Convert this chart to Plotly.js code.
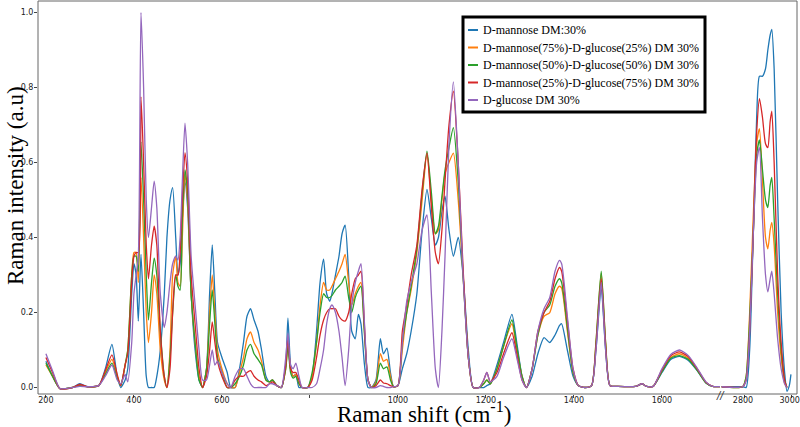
<!DOCTYPE html>
<html>
<head>
<meta charset="utf-8">
<script src="https://cdn.plot.ly/plotly-3.0.1.min.js"></script>
<style>html,body{margin:0;padding:0;background:#fff;}#chart{width:800px;height:427px;}</style>
</head>
<body>
<div id="chart"></div>
<script>
// Raman shift grid, low-wavenumber segment (cm-1)
const shiftLow = [200,215,232,260,277,295,320,335,350,362,370,380,386,395,400,405,410,416,422,428,433,440,446,452,460,469,475,482,488,495,500,505,510,516,522,530,539,548,556,565,572,578,584,590,600,612,620,630,640,649,657,665,673,682,690,700,708,715,725,735,745,750,756,762,768,775,782,795,805,815,823,831,838,845,850,858,866,873,880,888,895,903,910,916,924,932,940,950,960,967,975,983,990,1000,1010,1020,1030,1043,1055,1066,1076,1085,1092,1100,1107,1116,1126,1137,1148,1160,1171,1185,1195,1202,1210,1225,1240,1259,1270,1282,1292,1305,1318,1332,1345,1357,1367,1372,1385,1398,1410,1425,1440,1450,1462,1472,1482,1500,1540,1555,1565,1580,1600,1620,1640,1660,1680,1700,1715,1740];

const mannoseLow = [.07,.03,-.003,0,.01,.002,.005,.05,.115,.03,0,.02,.05,.25,.33,.3,.177,.355,.2,.03,0,0,0,.03,.1,.25,.4,.5,.533,.4,.3,.33,.45,.55,.48,.25,.1,.02,0,.05,.25,.38,.25,.12,.08,.04,0,0,.05,.12,.19,.21,.18,.15,.1,.03,.015,.02,.005,0,.06,.185,.06,.03,.035,0,0,0,.03,.15,.28,.342,.25,.23,.25,.3,.35,.41,.433,.3,.15,.13,.195,.17,.06,0,0,.02,.13,.09,.105,.04,.002,.005,.05,.09,.15,.25,.42,.528,.45,.38,.4,.47,.51,.42,.35,.4,.3,.1,0,0,0,.005,.01,.06,.12,.195,.12,.03,0,.03,.09,.133,.12,.14,.165,.17,.1,.03,.005,0,.005,.1,.265,.1,.005,.003,.003,.01,.003,.003,.04,.075,.083,.072,.045,.012,.003,.003];
const m75Low = [.06,.03,-.003,0,.005,.002,.005,.04,.075,.03,.005,.06,.1,.3,.36,.36,.28,.56,.4,.2,.12,.2,.3,.25,.1,.02,0,.1,.3,.35,.28,.27,.4,.57,.5,.25,.12,.03,0,.05,.2,.3,.2,.1,.05,.01,0,0,.04,.08,.13,.148,.12,.1,.07,.02,.015,.02,.005,0,.05,.12,.05,.03,.035,.01,0,0,.03,.12,.22,.28,.26,.26,.27,.29,.31,.33,.355,.28,.22,.25,.27,.28,.15,.02,0,.015,.09,.07,.075,.03,.002,.005,.1,.2,.26,.36,.5,.625,.5,.41,.42,.5,.57,.6,.625,.5,.3,.08,0,0,.01,.02,.01,.05,.11,.17,.1,.03,0,.05,.14,.19,.2,.25,.27,.265,.15,.04,.005,0,.005,.12,.305,.12,.005,.003,.003,.01,.003,.003,.045,.08,.09,.078,.048,.013,.003,.003];
const m50Low = [.065,.03,-.003,0,.005,.002,.005,.035,.065,.025,.005,.06,.1,.3,.35,.35,.31,.655,.5,.3,.18,.28,.345,.3,.15,.03,0,.08,.2,.3,.27,.26,.45,.58,.52,.25,.12,.02,0,.05,.17,.26,.17,.08,.04,0,0,.01,.03,.06,.1,.115,.09,.075,.06,.02,.015,.02,.005,0,.05,.11,.04,.025,.03,.01,0,0,.04,.12,.2,.25,.24,.24,.245,.26,.27,.28,.297,.24,.2,.24,.26,.27,.14,.02,0,.01,.065,.05,.055,.02,.002,.005,.12,.2,.27,.37,.52,.63,.52,.41,.43,.51,.58,.64,.693,.55,.3,.08,0,0,.01,.02,.01,.05,.11,.18,.11,.03,0,.05,.14,.2,.22,.27,.29,.28,.16,.04,.005,0,.005,.12,.31,.12,.005,.003,.003,.01,.003,.003,.042,.078,.085,.075,.046,.012,.003,.003];
const m25Low = [.08,.04,-.003,0,.008,.002,.005,.045,.087,.035,.005,.06,.09,.28,.35,.36,.36,.775,.6,.38,.29,.38,.43,.38,.15,.03,0,.05,.2,.3,.3,.36,.5,.626,.55,.3,.17,.05,0,.03,.1,.175,.12,.07,.03,0,0,.02,.03,.03,.04,.045,.03,.02,.015,.005,.01,.015,.005,0,.06,.135,.05,.04,.04,.02,0,0,.02,.08,.14,.18,.2,.21,.21,.21,.19,.18,.177,.2,.25,.29,.3,.31,.16,.02,0,.005,.02,.012,.01,.005,.002,.005,.15,.22,.3,.38,.53,.625,.48,.36,.33,.42,.55,.7,.79,.6,.32,.08,0,0,.02,.04,.015,.04,.09,.146,.09,.02,0,.05,.15,.2,.23,.29,.32,.31,.18,.05,.005,0,.005,.11,.29,.11,.005,.003,.003,.01,.003,.003,.047,.085,.095,.082,.05,.014,.003,.003];
const glucoseLow = [.09,.045,-.003,0,.003,.002,.005,.03,.06,.02,.01,.035,.015,.12,.25,.3,.35,1.0,.8,.5,.4,.48,.55,.48,.25,.16,.2,.28,.33,.35,.34,.4,.55,.705,.6,.35,.22,.1,.02,.02,.06,.1,.06,.07,.04,.01,0,.03,.05,.05,.03,.01,0,0,0,0,.01,.01,.005,0,.08,.145,.06,.05,.065,.03,0,0,0,.01,.05,.1,.17,.21,.22,.2,.15,.08,.005,.1,.22,.28,.31,.33,.17,.02,0,0,.005,.003,0,0,.002,.005,.12,.23,.28,.33,.42,.46,.25,.05,0,.15,.35,.65,.815,.6,.3,.08,0,0,.02,.04,.015,.03,.08,.13,.08,.02,0,.05,.15,.21,.24,.31,.339,.33,.19,.05,.005,0,.005,.1,.28,.1,.005,.003,.003,.01,.003,.003,.05,.088,.1,.085,.052,.015,.003,.003];

// Raman shift grid, C-H stretching segment (cm-1)
const shiftHigh = [2700,2790,2805,2820,2835,2850,2862,2875,2888,2898,2908,2915,2925,2940,2955,2970,2980,2990,2997];
const mannoseHigh = [.002,.002,0,.1,.4,.72,.83,.83,.85,.9,.94,.955,.85,.5,.2,.04,-.01,.005,.035];
const m75High = [.002,.002,.03,.2,.45,.65,.69,.55,.4,.37,.42,.44,.38,.2,.08,.01,0,null,null];
const m50High = [.002,.002,.03,.18,.4,.62,.66,.58,.5,.48,.54,.56,.45,.25,.1,.02,0,null,null];
const m25High = [.002,.002,.02,.15,.4,.68,.77,.72,.65,.64,.71,.737,.6,.3,.12,.02,0,null,null];
const glucoseHigh = [.002,.002,.02,.15,.4,.6,.64,.45,.3,.255,.29,.31,.25,.13,.05,.01,0,null,null];

const seriesNames = ["D-mannose DM:30%","D-mannose(75%)-D-glucose(25%) DM 30%","D-mannose(50%)-D-glucose(50%) DM 30%","D-mannose(25%)-D-glucose(75%) DM 30%","D-glucose DM 30%"];
const seriesColors = ["#1f77b4","#ff7f0e","#2ca02c","#d62728","#9467bd"];
const lowVals = [mannoseLow,m75Low,m50Low,m25Low,glucoseLow];
const highVals = [mannoseHigh,m75High,m50High,m25High,glucoseHigh];

const xTickVals = [200,400,600,800,1000,1200,1400,1600];
const xTickText = ["200","400","600"," ","1000","1200","1400","1600"];
const x2TickVals = [2800,3000];
const x2TickText = ["2800","3000"];
const yTickVals = [0,0.2,0.4,0.6,0.8,1.0];
const yTickText = ["0.0","0.2","0.4","0.6","0.8","1.0"];

const traces = [];
for (let i = 0; i < 5; i++) {
  traces.push({x: shiftLow, y: lowVals[i], xaxis:'x', yaxis:'y', type:'scatter', mode:'lines',
    name: seriesNames[i], showlegend:false,
    line:{color: seriesColors[i], width:1.3, shape:'spline', smoothing:0.6}});
}
for (let i = 0; i < 5; i++) {
  traces.push({x: shiftHigh, y: highVals[i], xaxis:'x2', yaxis:'y', type:'scatter', mode:'lines',
    name: seriesNames[i], showlegend:false,
    line:{color: seriesColors[i], width:1.3, shape:'spline', smoothing:0.6}});
}

// plot-area pixel geometry helpers (plot spans 38..797 px wide, 1..394 px tall)
const PX0 = 38, PW = 759, PY0 = 394, PH = 393;
const px = v => (v - PX0) / PW;
const py = v => (PY0 - v) / PH;

const split = 0.8986;
const tickFont = {family:'DejaVu Sans', size:8, color:'#222'};

// legend drawn as a framed box with short line keys
const shapes = [
  {type:'rect', xref:'paper', yref:'paper', x0:0, x1:1, y0:0, y1:1, line:{color:'#666', width:1}},
  {type:'rect', xref:'paper', yref:'paper', x0:px(463), x1:px(705), y0:py(112), y1:py(17), layer:'above',
   fillcolor:'#fff', line:{color:'#000', width:3}}
];
const annotations = [
  {text:'Raman intensity (a.u)', xref:'paper', yref:'paper', x:px(15), y:py(186), textangle:-90, showarrow:false,
   xanchor:'center', yanchor:'middle', font:{family:'Liberation Serif', size:23, color:'#000'}},
  {text:'Raman shift (cm<sup>-1</sup>)', xref:'paper', yref:'paper', x:px(424), y:py(412), showarrow:false,
   xanchor:'center', yanchor:'middle', font:{family:'Liberation Serif', size:23, color:'#000'}},
  {text:'<i>//</i>', xref:'paper', yref:'paper', x:split, y:py(395), showarrow:false, xanchor:'center', yanchor:'middle',
   font:{family:'DejaVu Sans', size:10, color:'#333'}}
];
const rowY = [30, 47.5, 65, 82.5, 100];
for (let i = 0; i < 5; i++) {
  shapes.push({type:'line', xref:'paper', yref:'paper', x0:px(468), x1:px(478), y0:py(rowY[i]), y1:py(rowY[i]),
    layer:'above', line:{color: seriesColors[i], width:2}});
  annotations.push({text: seriesNames[i], xref:'paper', yref:'paper', x:px(481), y:py(rowY[i]), showarrow:false,
    xanchor:'left', yanchor:'middle', font:{family:'Liberation Serif', size:12, color:'#000'}});
}

const layout = {
  width:800, height:427,
  margin:{l:38, r:3, t:1, b:33},
  paper_bgcolor:'#fff', plot_bgcolor:'#fff',
  showlegend:false,
  xaxis:{domain:[0, split], range:[182,1732], tickvals:xTickVals, ticktext:xTickText, ticks:'outside', ticklen:3,
    tickcolor:'#444', tickfont:tickFont, showgrid:false, zeroline:false, showline:false, ticklabelstandoff:-5},
  xaxis2:{domain:[split, 1], range:[2693,3023], anchor:'y', tickvals:x2TickVals, ticktext:x2TickText, ticks:'outside', ticklen:3,
    tickcolor:'#444', tickfont:tickFont, showgrid:false, zeroline:false, showline:false, ticklabelstandoff:-5,
    ticklabelshift:-2, ticklabeloverflow:'allow'},
  yaxis:{range:[-0.0173,1.0307], tickvals:yTickVals, ticktext:yTickText, ticks:'outside', ticklen:3,
    tickcolor:'#444', tickfont:tickFont, showgrid:false, zeroline:false, showline:false, ticklabelstandoff:-1},
  shapes: shapes,
  annotations: annotations
};
Plotly.newPlot('chart', traces, layout, {displayModeBar:false, staticPlot:true});
</script>
</body>
</html>
